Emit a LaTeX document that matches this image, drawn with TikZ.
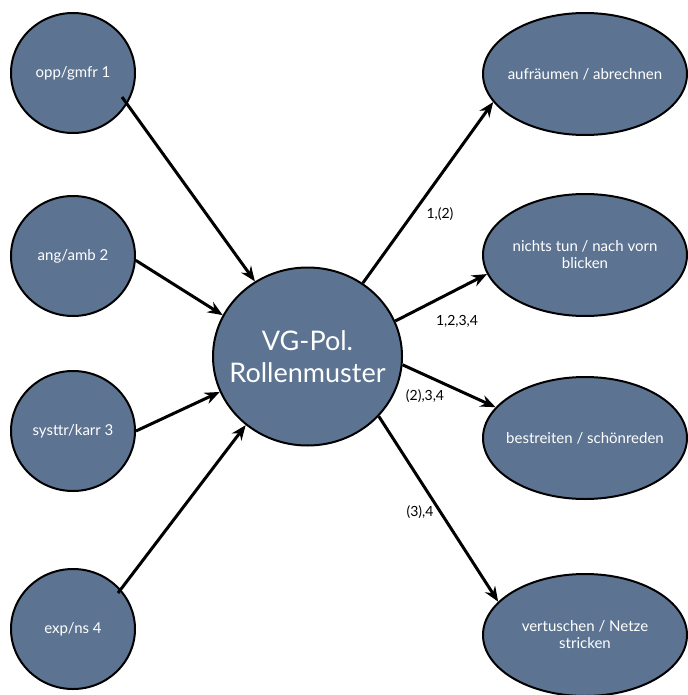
\documentclass[tikz,border=0pt]{standalone}
\usepackage{fontspec}
\setmainfont{Lato}
\usetikzlibrary{arrows.meta,shapes.geometric}
\definecolor{slate}{RGB}{92,116,146}
\tikzset{
  bubble/.style={ellipse, draw=black, line width=2pt, fill=slate, text=white,
    inner ysep=0pt, align=center, font=\fontsize{15}{17}\selectfont},
  lefty/.style={bubble, inner xsep=-10pt, minimum width=124pt, minimum height=120pt},
  righty/.style={bubble, inner xsep=-16pt, minimum width=204pt, minimum height=122pt},
  hub/.style={bubble, inner xsep=-12pt, minimum width=189pt, minimum height=178pt,
    font=\fontsize{27}{32}\selectfont},
  link/.style={line width=3pt, -{Stealth[length=15pt,width=12pt,inset=5pt]}},
  tag/.style={font=\fontsize{14}{16}\selectfont, text=black, inner sep=0pt}
}
\begin{document}
\begin{tikzpicture}[x=1pt,y=-1pt]
\useasboundingbox (0,0) rectangle (687,695);

% left sources
\node[lefty] (opp) at (73,73)  {opp/gmfr 1};
\node[lefty] (ang) at (73,256) {ang/amb 2};
\node[lefty] (sys) at (73,431) {systtr/karr 3};
\node[lefty] (exp) at (73,629) {exp/ns 4};

% central role pattern
\node[hub] (vg) at (307.5,356.5) {VG-Pol.\\Rollenmuster};

% right outcomes
\node[righty] (auf) at (585,74)  {aufräumen / abrechnen};
\node[righty] (nic) at (585,255) {nichts tun / nach vorn\\blicken};
\node[righty] (bes) at (585,438) {bestreiten / schönreden};
\node[righty] (ver) at (585,635) {vertuschen / Netze\\stricken};

% start points lying inside the source circles
\coordinate (oppout) at (122,97);
\coordinate (expout) at (118,593);

% incoming arrows
\draw[link] (oppout) -- (vg.125.2);
\draw[link] (ang.-4) -- (vg.154.4);
\draw[link] (sys.0) -- (vg.202.8);
\draw[link] (expout) -- (vg.228.8);

% outgoing arrows
\draw[link] (vg.53.4) -- (auf.197.5);
\draw[link] (vg.22) -- (nic.191.5);
\draw[link] (vg.-5.4) -- (bes.161);
\draw[link] (vg.-40.6) -- (ver.159);

% arrow labels
\node[tag] (t1) at (440,214) {1,(2)};
\node[tag] (t2) at (457,321) {1,2,3,4};
\node[tag] (t3) at (425,396) {(2),3,4};
\node[tag] (t4) at (420,512) {(3),4};
\end{tikzpicture}
\end{document}
